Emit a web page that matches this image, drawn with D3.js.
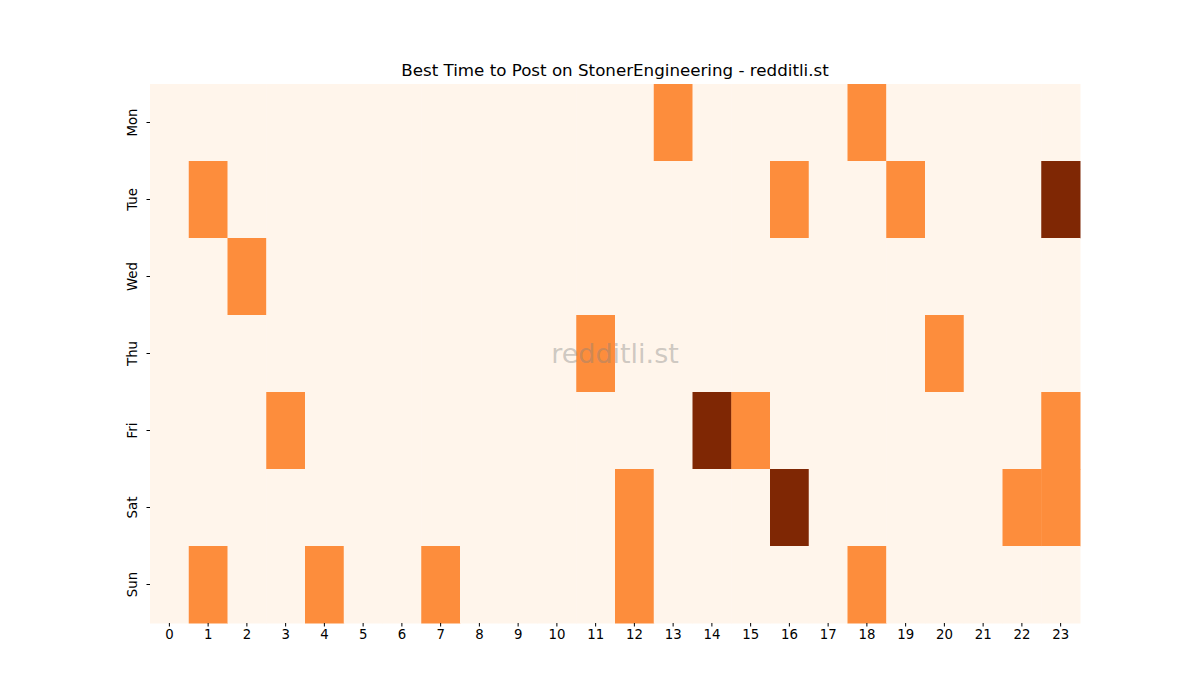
<!DOCTYPE html>
<meta charset="utf-8">
<script src="https://d3js.org/d3.v7.min.js"></script>
<style>
  body { margin: 0; background: #fff; }
  text { font-family: "DejaVu Sans", sans-serif; }
</style>
<div id="my_dataviz"></div>
<script>
  // labels
  var days = ["Mon", "Tue", "Wed", "Thu", "Fri", "Sat", "Sun"]
  var hours = d3.range(24).map(String)

  // post counts per day, one value per hour 0..23
  var monVals = [0,0,0,0,0,0,0,0,0,0,0,0,0,1,0,0,0,0,1,0,0,0,0,0]
  var tueVals = [0,1,0,0,0,0,0,0,0,0,0,0,0,0,0,0,1,0,0,1,0,0,0,2]
  var wedVals = [0,0,1,0,0,0,0,0,0,0,0,0,0,0,0,0,0,0,0,0,0,0,0,0]
  var thuVals = [0,0,0,0,0,0,0,0,0,0,0,1,0,0,0,0,0,0,0,0,1,0,0,0]
  var friVals = [0,0,0,1,0,0,0,0,0,0,0,0,0,0,2,1,0,0,0,0,0,0,0,1]
  var satVals = [0,0,0,0,0,0,0,0,0,0,0,0,1,0,0,0,2,0,0,0,0,0,1,1]
  var sunVals = [0,1,0,0,1,0,0,1,0,0,0,0,1,0,0,0,0,0,1,0,0,0,0,0]
  var rows = [monVals, tueVals, wedVals, thuVals, friVals, satVals, sunVals]

  var margin = {top: 84, right: 120, bottom: 77, left: 150},
    width = 1200 - margin.left - margin.right,
    height = 700 - margin.top - margin.bottom;

  var svg = d3.select("#my_dataviz")
    .append("svg")
      .attr("width", 1200)
      .attr("height", 700)
    .append("g")
      .attr("transform", "translate(" + margin.left + "," + margin.top + ")");

  var x = d3.scaleBand().range([0, width]).domain(hours)
  var y = d3.scaleBand().range([0, height]).domain(days)

  // Oranges-like colour scale
  var myColor = d3.scaleLinear()
    .domain([0, 1, 2])
    .range(["#fff5eb", "#fd8d3c", "#7f2704"])

  var cells = []
  rows.forEach(function(vals, i) {
    vals.forEach(function(v, h) {
      cells.push({day: days[i], hour: hours[h], value: v})
    })
  })

  svg.selectAll()
    .data(cells)
    .enter()
    .append("rect")
      .attr("x", function(d) { return x(d.hour) })
      .attr("y", function(d) { return y(d.day) })
      .attr("width", x.bandwidth() + 0.5)
      .attr("height", y.bandwidth() + 0.5)
      .style("fill", function(d) { return myColor(d.value) })

  // axes
  var xAxis = svg.append("g")
    .attr("transform", "translate(0," + height + ")")
    .call(d3.axisBottom(x).tickSize(3.5).tickPadding(3.5))
  xAxis.select(".domain").remove()
  xAxis.selectAll("text").style("font-size", "13.3px").attr("fill", "#000")

  var yAxis = svg.append("g")
    .call(d3.axisLeft(y).tickSize(3.5).tickPadding(3.5))
  yAxis.select(".domain").remove()
  yAxis.selectAll("text")
    .style("font-size", "13.3px")
    .attr("fill", "#000")
    .attr("transform", "rotate(-90)")
    .attr("x", 0)
    .attr("y", -18)
    .attr("dy", "0.35em")
    .style("text-anchor", "middle")

  // title
  svg.append("text")
    .attr("x", width / 2)
    .attr("y", -8)
    .attr("text-anchor", "middle")
    .style("font-size", "16.7px")
    .text("Best Time to Post on StonerEngineering - redditli.st")

  // watermark
  svg.append("text")
    .attr("x", width / 2)
    .attr("y", height / 2)
    .attr("text-anchor", "middle")
    .attr("dy", "0.35em")
    .style("font-size", "27px")
    .attr("fill", "#808080")
    .attr("fill-opacity", 0.4)
    .text("redditli.st")
</script>
